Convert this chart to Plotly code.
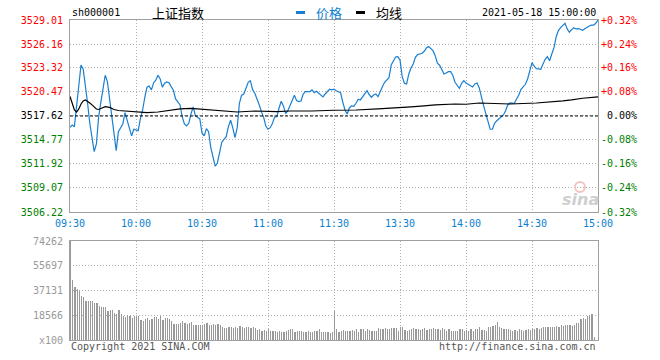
import plotly.graph_objects as go

# ---------------- data ----------------
BASE = 3517.62  # previous close
price_ticks = [3506.22, 3509.07, 3511.92, 3514.77, 3517.62, 3520.47, 3523.32, 3526.16, 3529.01]
pct_labels = ['-0.32%', '-0.24%', '-0.16%', '-0.08%', '0.00%', '+0.08%', '+0.16%', '+0.24%', '+0.32%']
time_ticks = ['09:30', '10:00', '10:30', '11:00', '11:30', '13:30', '14:00', '14:30', '15:00']
vol_ticks = [0, 18566, 37131, 55697, 74262]
vol_tick_labels = ['x100', '18566', '37131', '55697', '74262']


def session_times():
    out = []
    for h in range(9, 12):
        for m in range(60):
            if (h == 9 and m < 30) or (h == 11 and m > 30):
                continue
            out.append('%02d:%02d' % (h, m))
    for h in range(13, 16):
        for m in range(60):
            if (h == 13 and m == 0) or (h == 15 and m > 0):
                continue
            out.append('%02d:%02d' % (h, m))
    return out


times = session_times()  # 241 minutes, 09:30 .. 15:00

prices = [
    3516.28, 3516.55, 3516.35, 3519.04, 3521.50, 3523.67, 3523.16, 3521.42, 3519.13, 3516.75,
    3514.77, 3513.38, 3514.30, 3517.47, 3519.20, 3520.91, 3522.45, 3521.69, 3519.60, 3516.99,
    3514.97, 3513.50, 3515.76, 3516.20, 3516.67, 3518.01, 3516.99, 3515.96, 3515.25, 3516.04,
    3515.96, 3515.88, 3517.30, 3518.30, 3519.84, 3521.03, 3521.18, 3520.71, 3521.54, 3521.86,
    3522.45, 3522.01, 3521.03, 3521.50, 3521.66, 3521.57, 3521.10, 3520.67, 3519.64, 3519.20,
    3518.93, 3517.54, 3516.67, 3516.43, 3516.75, 3517.86, 3518.69, 3517.62, 3517.47, 3517.30,
    3515.60, 3515.25, 3516.11, 3515.76, 3513.86, 3512.55, 3511.65, 3512.04, 3513.38, 3514.50,
    3514.85, 3515.16, 3516.35, 3517.11, 3516.20, 3515.04, 3516.23, 3519.13, 3520.08, 3520.23,
    3520.91, 3521.62, 3521.81, 3520.74, 3520.31, 3519.67, 3518.96, 3518.13, 3517.47, 3516.43,
    3516.04, 3516.23, 3516.71, 3517.50, 3517.54, 3518.53, 3519.37, 3518.81, 3517.89, 3518.25,
    3518.81, 3519.37, 3520.08, 3519.44, 3519.32, 3519.40, 3520.23, 3520.50, 3520.50, 3520.50,
    3520.71, 3520.39, 3520.55, 3520.31, 3520.11, 3519.88, 3520.23, 3520.55, 3520.79, 3520.71,
    3520.79, 3520.62, 3520.55, 3520.39, 3519.25, 3518.33, 3517.86, 3518.57, 3518.81, 3518.77,
    3519.13, 3519.60, 3519.52, 3519.91, 3520.15, 3520.62, 3520.15, 3519.84, 3520.11, 3520.23,
    3519.91, 3520.59, 3521.10, 3521.62, 3521.89, 3522.17, 3523.67, 3524.18, 3524.62, 3524.66,
    3524.27, 3522.29, 3521.50, 3521.42, 3522.61, 3523.32, 3523.79, 3524.59, 3524.90, 3524.98,
    3525.06, 3525.30, 3525.69, 3525.85, 3525.66, 3525.37, 3524.78, 3523.88, 3523.64, 3523.16,
    3522.61, 3522.72, 3522.88, 3522.88, 3522.45, 3521.62, 3521.22, 3520.91, 3521.50, 3521.81,
    3521.54, 3521.38, 3521.26, 3521.06, 3521.42, 3521.54, 3520.98, 3519.76, 3518.84, 3517.89,
    3516.82, 3516.04, 3516.04, 3516.75, 3517.06, 3517.30, 3517.42, 3517.74, 3518.25, 3518.96,
    3519.16, 3519.13, 3519.13, 3519.64, 3520.11, 3520.79, 3521.15, 3521.38, 3522.01, 3523.16,
    3523.95, 3523.52, 3523.23, 3523.20, 3523.16, 3523.79, 3524.35, 3524.66, 3524.18, 3524.98,
    3525.73, 3527.03, 3527.75, 3528.10, 3528.42, 3528.62, 3527.95, 3527.56, 3527.86, 3528.10,
    3527.95, 3527.98, 3527.91, 3527.79, 3527.98, 3528.18, 3528.30, 3528.39, 3528.39, 3528.62,
    3529.01,
]

avg_times = ['09:30', '09:31', '09:32', '09:33', '09:34', '09:35', '09:36', '09:37', '09:38', '09:39',
             '09:40', '09:41', '09:42', '09:43', '09:44', '09:45', '09:46', '09:48', '09:50', '09:52',
             '09:55', '10:00', '10:05', '10:10', '10:15', '10:20', '10:25', '10:30', '10:34', '10:39',
             '10:46', '10:54', '11:04', '11:10', '11:20', '11:30', '13:10', '13:20', '13:30', '13:35',
             '13:41', '13:46', '13:55', '14:00', '14:06', '14:20', '14:32', '14:40', '14:44', '14:48',
             '14:53', '15:00']
avg_prices = [3519.93, 3519.04, 3518.33, 3518.09, 3518.45, 3519.04, 3519.40, 3519.52, 3519.37, 3519.16,
              3518.93, 3518.69, 3518.45, 3518.39, 3518.51, 3518.65, 3518.72, 3518.63, 3518.39, 3518.27,
              3518.21, 3518.09, 3518.01, 3518.09, 3518.27, 3518.45, 3518.51, 3518.42, 3518.30, 3518.18,
              3518.09, 3518.21, 3518.13, 3518.21, 3518.21, 3518.30, 3518.33, 3518.45, 3518.57, 3518.69,
              3518.81, 3518.93, 3519.04, 3519.01, 3519.16, 3519.04, 3519.16, 3519.28, 3519.40, 3519.52,
              3519.72, 3519.88]

# volume in units of 100 shares
volumes = [
    74262, 45000, 40000, 38250, 36750, 33000, 32000, 29500, 29500, 29500,
    29500, 27500, 27500, 25500, 25000, 24750, 24750, 21750, 22500, 22500,
    20000, 19500, 22500, 19500, 18000, 17500, 18750, 18000, 16500, 18000,
    17500, 18000, 15000, 14500, 15500, 16250, 15000, 15500, 17000, 17000,
    16000, 18000, 15000, 16250, 16250, 15500, 14000, 12000, 12000, 12000,
    12500, 14250, 13000, 12000, 13000, 13500, 11500, 11250, 11250, 11250,
    11000, 12000, 13000, 11250, 11250, 12000, 11250, 12000, 11250, 9500,
    8750, 8750, 9500, 9500, 8750, 9500, 8750, 10500, 9500, 8750,
    9500, 9500, 8750, 9500, 8750, 7500, 8000, 7000, 7500, 7000,
    8500, 7000,
    7000, 7000, 6250, 7000, 6250, 6250, 7000, 7500, 8250, 8500,
    6250, 7000, 7000, 7000, 6250, 6250, 7000, 6250, 6250, 7000,
    7000, 8000, 6250, 6250, 6250, 6250, 5500, 6250, 22000,
    8250, 6250, 7000, 7500, 7000, 7000, 7000,
    7500, 7000, 8000, 6250, 8250, 8250, 7000, 8250, 7500,
    7000, 7000, 7000,
    9250, 8000, 8250, 9250, 8250, 8500, 9000, 9250, 9250,
    7000, 10000, 10000, 7500, 7000, 7500, 8250, 8750, 8250, 8250,
    7500, 8250, 8750, 7500, 8500, 8250, 8750, 8250, 8500, 7500,
    8750, 8500, 7000, 8000, 7000, 7000, 7000, 7000,
    8500, 8250, 7000, 7500, 7000, 8000, 7000, 8000, 8000, 9500,
    7500, 7500, 7000, 10000, 10000, 10750, 11250, 13500, 10000, 8750,
    8250, 8000, 8250, 7500, 7000, 7500, 7000, 8250, 7500, 7000,
    7500, 8250, 7500, 8250, 8000, 8750, 8250, 8750, 9500, 10000,
    9500, 9500, 10000, 10000, 10500, 10000, 11250, 10500, 11250, 11000,
    11000, 10500, 11250, 12500, 13000, 15500, 16750, 16000, 18000, 18500,
    19500, 2500, 0, 0,
]

# ---------------- styling ----------------
W, H = 660, 360
X0, X1 = 70, 598          # plot left / right in px
P_TOP, P_BOT = 20, 212    # price panel
V_TOP, V_BOT = 241, 340   # volume panel

BLUE = '#1a7fd0'
TICK_BLUE = '#0a7fd0'
RED = '#ff0000'
GREEN = '#008000'
GRID = '#b0b0b0'
FRAME = '#a0a0a0'
MONO = 'DejaVu Sans Mono'
CJK = 'Noto Sans CJK SC'


def fx(px):
    return px / W


def fy(py):
    return 1 - py / H


idx = {t: i for i, t in enumerate(times)}
x_all = list(range(len(times)))
n = len(times)


def colored(text, value):
    if value > BASE + 1e-6:
        c = RED
    elif value < BASE - 1e-6:
        c = GREEN
    else:
        c = '#000000'
    return '<span style="color:%s">%s</span>' % (c, text)


left_text = [colored('%.2f' % v, v) for v in price_ticks]
right_text = [colored(('\u00a0' + p) if p == '0.00%' else p, v) for p, v in zip(pct_labels, price_ticks)]

fig = go.Figure()

fig.add_trace(go.Bar(
    x=x_all[:len(volumes)], y=volumes, xaxis='x2', yaxis='y3',
    marker=dict(color='#999999', line=dict(width=0)),
    width=0.5, offset=0, hoverinfo='skip'))

fig.add_trace(go.Scatter(
    x=x_all, y=prices, xaxis='x', yaxis='y', mode='lines',
    line=dict(color=BLUE, width=1.2), hoverinfo='skip'))

fig.add_trace(go.Scatter(
    x=[idx[t] for t in avg_times], y=avg_prices, xaxis='x', yaxis='y2', mode='lines',
    line=dict(color='black', width=1.2), hoverinfo='skip'))

tick_pos = [idx[t] for t in time_ticks]

common_x = dict(
    range=[0, n - 1], domain=[fx(X0), fx(X1)], tickvals=tick_pos,
    showgrid=True, gridcolor=GRID, griddash='1px,2px', gridwidth=1,
    showline=True, mirror=True, linecolor=FRAME, linewidth=1,
    zeroline=False, ticks='', fixedrange=True, automargin=False)

fig.update_layout(
    template='none',
    width=W, height=H, autosize=False,
    margin=dict(l=0, r=0, t=0, b=0, pad=0),
    paper_bgcolor='white', plot_bgcolor='white',
    showlegend=False,
    xaxis=dict(common_x, anchor='y', ticktext=time_ticks, ticklabelstandoff=2,
               tickfont=dict(family=MONO, size=10, color=TICK_BLUE)),
    xaxis2=dict(common_x, anchor='y3', showticklabels=False),
    yaxis=dict(domain=[fy(P_BOT), fy(P_TOP)], range=[price_ticks[0], price_ticks[-1]],
               tickvals=price_ticks, ticktext=left_text, anchor='x',
               tickfont=dict(family=MONO, size=10), automargin=False, ticklabelstandoff=4,
               showgrid=True, gridcolor=GRID, griddash='1px,2px',
               showline=True, mirror=True, linecolor=FRAME, linewidth=1,
               zeroline=False, ticks=''),
    yaxis2=dict(overlaying='y', side='right', anchor='x',
                range=[price_ticks[0], price_ticks[-1]],
                tickvals=price_ticks, ticktext=right_text, automargin=False, ticklabelstandoff=2,
                tickfont=dict(family=MONO, size=10),
                showgrid=False, zeroline=False, showline=False, ticks=''),
    yaxis3=dict(domain=[fy(V_BOT), fy(V_TOP)], range=[0, vol_ticks[-1]],
                tickvals=vol_ticks, ticktext=vol_tick_labels, anchor='x2',
                tickfont=dict(family=MONO, size=10, color='#999999'), automargin=False,
                ticklabelstandoff=4,
                showgrid=True, gridcolor=GRID, griddash='1px,2px',
                showline=True, mirror=True, linecolor=FRAME, linewidth=1,
                zeroline=False, ticks=''),
    bargap=0,
)

# previous close reference line
fig.add_shape(type='line', xref='x', yref='y', x0=0, x1=n - 1, y0=BASE, y1=BASE,
              line=dict(color='black', width=1, dash='3px,2px'))

# header legend marks
fig.add_shape(type='line', xref='paper', yref='paper', x0=fx(296), x1=fx(305), y0=fy(12.5), y1=fy(12.5),
              line=dict(color=BLUE, width=3))
fig.add_shape(type='line', xref='paper', yref='paper', x0=fx(356), x1=fx(365), y0=fy(12.5), y1=fy(12.5),
              line=dict(color='black', width=3))

# sina watermark eye
fig.add_shape(type='circle', xref='paper', yref='paper', x0=fx(575), x1=fx(585), y0=fy(192), y1=fy(182),
              line=dict(color='#f3c4c4', width=2), fillcolor='rgba(0,0,0,0)')

ann = [
    dict(text='sh000001', x=fx(70), y=fy(13), xanchor='left', font=dict(family=MONO, size=10, color='black')),
    dict(text='上证指数', x=fx(150), y=fy(13), xanchor='left', font=dict(family=CJK, size=13, color='black')),
    dict(text='价格', x=fx(314), y=fy(13), xanchor='left', font=dict(family=CJK, size=13, color=TICK_BLUE)),
    dict(text='均线', x=fx(374), y=fy(13), xanchor='left', font=dict(family=CJK, size=13, color='black')),
    dict(text='2021-05-18 15:00:00', x=fx(598), y=fy(13), xanchor='right', font=dict(family=MONO, size=10, color='black')),
    dict(text='Copyright 2021 SINA.COM', x=fx(69), y=fy(346), xanchor='left', font=dict(family=MONO, size=10, color='#555555')),
    dict(text='http://finance.sina.com.cn', x=fx(598), y=fy(346), xanchor='right', font=dict(family=MONO, size=10, color='#555555')),
    dict(text='<b><i>sina</i></b>', x=fx(580), y=fy(199), xanchor='center', font=dict(family='DejaVu Sans', size=16, color='#cfcfcf')),
]
for a in ann:
    a.update(xref='paper', yref='paper', yanchor='middle', showarrow=False)
fig.update_layout(annotations=ann)

fig.write_html('out.html', config={'displayModeBar': False, 'staticPlot': True},
               post_script="document.body.style.margin='0px';document.body.style.padding='0px';")
